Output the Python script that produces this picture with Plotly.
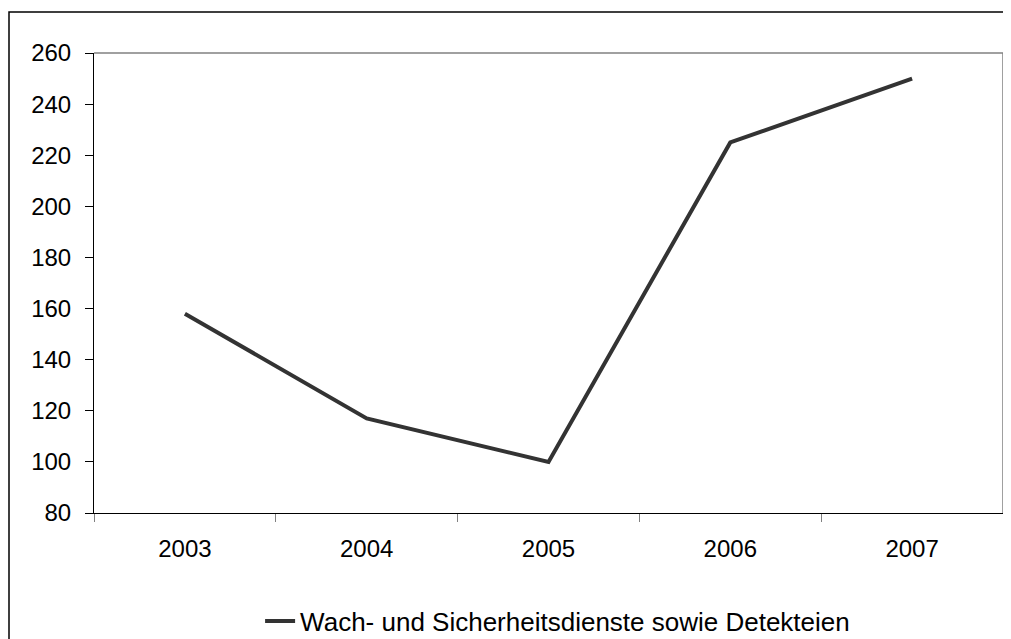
import plotly.graph_objects as go

years = ["2003", "2004", "2005", "2006", "2007"]
values = [158, 117, 100, 225, 250]
series_name = "Wach- und Sicherheitsdienste sowie Detekteien"
y_ticks = [80, 100, 120, 140, 160, 180, 200, 220, 240, 260]

# page body has an 8px margin, so figure coordinates = page coordinates - 8
W, H = 1003, 631
L, R, T, B = 86, 8, 45, 126
pw, ph = W - L - R, H - T - B

fig = go.Figure()
fig.add_trace(go.Scatter(
    x=years, y=values, mode="lines", name=series_name,
    line=dict(color="#333333", width=4),
))

font = dict(family="Liberation Sans, Arial, sans-serif", size=24, color="black")
legend_font = dict(family="Liberation Sans, Arial, sans-serif", size=26, color="black")

fig.update_layout(
    width=W, height=H,
    margin=dict(l=L, r=R, t=T, b=B, autoexpand=False),
    paper_bgcolor="white", plot_bgcolor="white",
    font=font,
    showlegend=True,
    legend=dict(orientation="h", x=0.51, xanchor="center", y=(505 + 126 - 613 - 126) / ph, yanchor="middle",
                font=legend_font, itemwidth=30),
    xaxis=dict(type="category", tickson="boundaries", ticks="outside", ticklen=8,
               range=[-0.5, 4.5], ticklabelstandoff=14,
               tickcolor="#808080", showline=True, linecolor="black", linewidth=1,
               showgrid=False, zeroline=False, tickfont=font),
    yaxis=dict(range=[80, 260], tickvals=y_ticks, ticks="outside", ticklen=8,
               ticklabelstandoff=9,
               tickcolor="black", showline=True, linecolor="black", linewidth=1,
               showgrid=False, zeroline=False, tickfont=font),
    shapes=[
        dict(type="line", xref="paper", yref="paper", x0=0, x1=1, y0=1, y1=1,
             line=dict(color="#808080", width=1.5)),
        dict(type="line", xref="paper", yref="paper", x0=1, x1=1, y0=0, y1=1,
             line=dict(color="#808080", width=1.5)),
        dict(type="rect", xref="paper", yref="paper",
             x0=(1 - L) / pw, x1=1.05, y0=-0.4, y1=1 + (T - 4) / ph,
             line=dict(color="black", width=1.5), layer="below"),
    ],
)

fig.write_html("out.html")
